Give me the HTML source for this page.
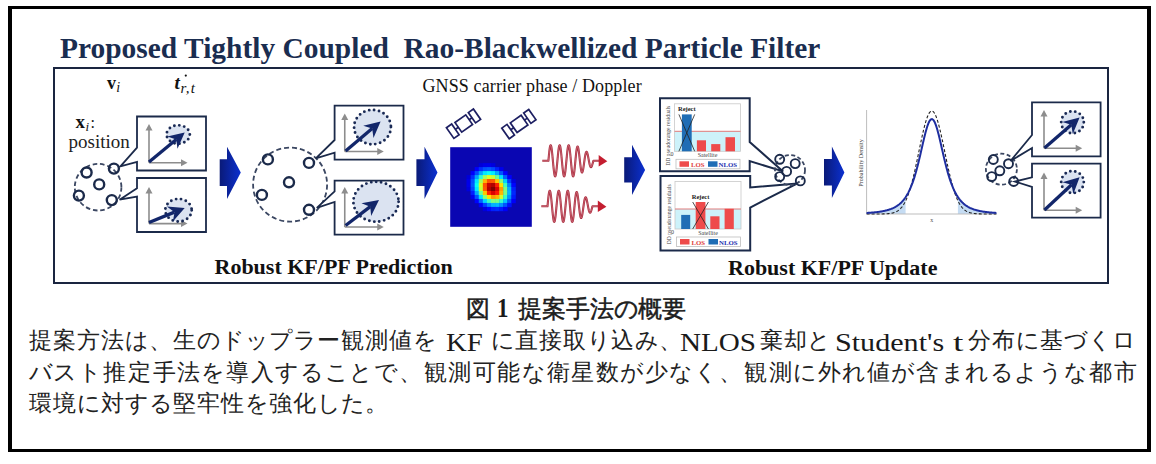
<!DOCTYPE html>
<html lang="ja"><head><meta charset="utf-8">
<style>
html,body{margin:0;padding:0;background:#fff;}
body{width:1156px;height:464px;position:relative;overflow:hidden;font-family:"Liberation Serif",serif;}
#outer{position:absolute;left:8px;top:6px;width:1135px;height:440px;border-style:solid;border-color:#000;border-width:3px 4px;}
#inner{position:absolute;left:53px;top:67px;width:1052px;height:213px;border:2px solid #1a2540;}
svg{position:absolute;left:0;top:0;}
svg text{font-family:"Liberation Serif",serif;}
.cap{position:absolute;left:466px;top:292px;font-size:24px;font-weight:bold;white-space:nowrap;color:#111;}
.t{position:absolute;font-size:24px;line-height:30px;white-space:nowrap;color:#222;}
.t span{display:inline-block;text-align:center;}
.lt{position:absolute;line-height:30px;white-space:nowrap;color:#1a1a1a;}
</style></head><body>
<div id="outer"></div>
<div id="inner"></div>
<svg width="1156" height="464" viewBox="0 0 1156 464">
<defs><linearGradient id="cg" x1="0" y1="0" x2="1" y2="0">
<stop offset="0" stop-color="#0a1a78"/><stop offset="1" stop-color="#0b30d0"/></linearGradient></defs>
<circle cx="98.1" cy="187.2" r="23.3" fill="none" stroke="#3b4762" stroke-width="1.8" stroke-dasharray="4.6 2.8"/>
<path d="M137,116.5 H206 V170.5 H137 V161.9 L120.4,166.4 L137,147.6 Z" fill="#fff" stroke="#1b2a4a" stroke-width="1.8" stroke-linejoin="miter"/>
<line x1="149" y1="162.7" x2="149" y2="129" stroke="#8d8d8d" stroke-width="1.6"/>
<polygon points="149,124 145.5,130.5 152.5,130.5" fill="#8d8d8d"/>
<line x1="149" y1="162.7" x2="182.5" y2="162.7" stroke="#8d8d8d" stroke-width="1.6"/>
<polygon points="187.5,162.7 181.0,159.2 181.0,166.2" fill="#8d8d8d"/>
<ellipse cx="178.2" cy="134.5" rx="11.6" ry="9.2" fill="#dbe3f1" stroke="#1a2a55" stroke-width="2.9" stroke-dasharray="0 5" stroke-linecap="round"/>
<line x1="149" y1="162" x2="176.23" y2="139.42" stroke="#12266a" stroke-width="3.3"/>
<polygon points="184.7,132.4 177.49,148.77 176.23,139.42 167.28,136.45" fill="#12266a"/>
<path d="M137,178 H206 V232 H137 V196.6 L119.6,199.7 L137,188.3 Z" fill="#fff" stroke="#1b2a4a" stroke-width="1.8" stroke-linejoin="miter"/>
<line x1="149" y1="223.6" x2="149" y2="192" stroke="#8d8d8d" stroke-width="1.6"/>
<polygon points="149,187 145.5,193.5 152.5,193.5" fill="#8d8d8d"/>
<line x1="149" y1="223.6" x2="182.5" y2="223.6" stroke="#8d8d8d" stroke-width="1.6"/>
<polygon points="187.5,223.6 181.0,220.1 181.0,227.1" fill="#8d8d8d"/>
<ellipse cx="178.5" cy="210.2" rx="13.2" ry="11.3" fill="#dbe3f1" stroke="#1a2a55" stroke-width="2.9" stroke-dasharray="0 5" stroke-linecap="round"/>
<line x1="149" y1="222.5" x2="174.51" y2="212.14" stroke="#12266a" stroke-width="3.3"/>
<polygon points="184.7,208 172.89,221.43 174.51,212.14 166.87,206.61" fill="#12266a"/>
<circle cx="86.6" cy="172.5" r="5.0" fill="none" stroke="#1b2a4a" stroke-width="2.4"/>
<circle cx="113.9" cy="168.6" r="5.0" fill="none" stroke="#1b2a4a" stroke-width="2.4"/>
<circle cx="99.2" cy="184.4" r="5.0" fill="none" stroke="#1b2a4a" stroke-width="2.4"/>
<circle cx="78.9" cy="195.6" r="5.0" fill="none" stroke="#1b2a4a" stroke-width="2.4"/>
<circle cx="111.8" cy="200.1" r="5.0" fill="none" stroke="#1b2a4a" stroke-width="2.4"/>
<polygon points="219.7,159.3 227,159.3 227,146.7 240.8,172.6 227,199 227,186 219.7,186" fill="url(#cg)"/>
<circle cx="290.1" cy="184.6" r="37" fill="none" stroke="#3b4762" stroke-width="1.8" stroke-dasharray="5 3"/>
<path d="M334.6,105.7 H403.5 V159.7 H334.6 V152.6 L315.8,158.4 L334.6,140 Z" fill="#fff" stroke="#1b2a4a" stroke-width="1.8" stroke-linejoin="miter"/>
<line x1="344.75" y1="151.5" x2="344.75" y2="118.4" stroke="#8d8d8d" stroke-width="1.6"/>
<polygon points="344.75,113.4 341.25,119.9 348.25,119.9" fill="#8d8d8d"/>
<line x1="344.75" y1="151.5" x2="378.75" y2="151.5" stroke="#8d8d8d" stroke-width="1.6"/>
<polygon points="383.75,151.5 377.25,148.0 377.25,155.0" fill="#8d8d8d"/>
<ellipse cx="372.5" cy="127.1" rx="18.4" ry="17.2" fill="#dbe3f1" stroke="#1a2a55" stroke-width="2.9" stroke-dasharray="0 5" stroke-linecap="round"/>
<line x1="345.6" y1="150.9" x2="372.18" y2="128.58" stroke="#12266a" stroke-width="3.3"/>
<polygon points="380.6,121.5 373.49,137.92 372.18,128.58 363.20,125.67" fill="#12266a"/>
<path d="M334.6,180.7 H403.5 V234.7 H334.6 V202 L316.8,207.9 L334.6,191.4 Z" fill="#fff" stroke="#1b2a4a" stroke-width="1.8" stroke-linejoin="miter"/>
<line x1="344.75" y1="227" x2="344.75" y2="192" stroke="#8d8d8d" stroke-width="1.6"/>
<polygon points="344.75,187 341.25,193.5 348.25,193.5" fill="#8d8d8d"/>
<line x1="344.75" y1="227" x2="378.75" y2="227" stroke="#8d8d8d" stroke-width="1.6"/>
<polygon points="383.75,227 377.25,223.5 377.25,230.5" fill="#8d8d8d"/>
<ellipse cx="376" cy="201.7" rx="22.6" ry="20" fill="#dbe3f1" stroke="#1a2a55" stroke-width="2.9" stroke-dasharray="0 5" stroke-linecap="round"/>
<line x1="345.6" y1="225.5" x2="370.26" y2="206.68" stroke="#12266a" stroke-width="3.3"/>
<polygon points="379,200 371.14,216.07 370.26,206.68 361.43,203.35" fill="#12266a"/>
<circle cx="267.9" cy="159.4" r="5.0" fill="none" stroke="#1b2a4a" stroke-width="2.4"/>
<circle cx="309" cy="162.9" r="5.0" fill="none" stroke="#1b2a4a" stroke-width="2.4"/>
<circle cx="289" cy="182.3" r="5.0" fill="none" stroke="#1b2a4a" stroke-width="2.4"/>
<circle cx="261.9" cy="194.9" r="5.0" fill="none" stroke="#1b2a4a" stroke-width="2.4"/>
<circle cx="309" cy="209.8" r="5.0" fill="none" stroke="#1b2a4a" stroke-width="2.4"/>
<polygon points="416.4,159.3 424.5,159.3 424.5,146.7 437.5,172.6 424.5,199 424.5,186 416.4,186" fill="url(#cg)"/>
<g transform="translate(463.75,123.5) rotate(-35)" fill="none" stroke="#1d1f62" stroke-width="1.7"><rect x="-16.6" y="-6.5" width="6.4" height="13"/><line x1="-10.2" y1="0" x2="-6.6" y2="0"/><rect x="-6.6" y="-5.9" width="13.2" height="11.8"/><line x1="6.6" y1="0" x2="10" y2="0"/><rect x="10" y="-6.3" width="6.2" height="12.6"/></g>
<g transform="translate(519.1,123.9) rotate(-35)" fill="none" stroke="#1d1f62" stroke-width="1.7"><rect x="-16.6" y="-6.5" width="6.4" height="13"/><line x1="-10.2" y1="0" x2="-6.6" y2="0"/><rect x="-6.6" y="-5.9" width="13.2" height="11.8"/><line x1="6.6" y1="0" x2="10" y2="0"/><rect x="10" y="-6.3" width="6.2" height="12.6"/></g>
<rect x="450.2" y="147.2" width="81.6" height="79.6" fill="#0a06b2"/>
<rect x="478.76" y="163.12" width="4.38" height="4.28" fill="#0000d9"/>
<rect x="482.84" y="163.12" width="4.38" height="4.28" fill="#0000e8"/>
<rect x="486.92" y="163.12" width="4.38" height="4.28" fill="#0000ea"/>
<rect x="491.00" y="163.12" width="4.38" height="4.28" fill="#0000de"/>
<rect x="474.68" y="167.10" width="4.38" height="4.28" fill="#0000fc"/>
<rect x="478.76" y="167.10" width="4.38" height="4.28" fill="#002eff"/>
<rect x="482.84" y="167.10" width="4.38" height="4.28" fill="#0051ff"/>
<rect x="486.92" y="167.10" width="4.38" height="4.28" fill="#005bff"/>
<rect x="491.00" y="167.10" width="4.38" height="4.28" fill="#0048ff"/>
<rect x="495.08" y="167.10" width="4.38" height="4.28" fill="#001fff"/>
<rect x="499.16" y="167.10" width="4.38" height="4.28" fill="#0000ed"/>
<rect x="470.60" y="171.08" width="4.38" height="4.28" fill="#0000fc"/>
<rect x="474.68" y="171.08" width="4.38" height="4.28" fill="#004dff"/>
<rect x="478.76" y="171.08" width="4.38" height="4.28" fill="#00a4ff"/>
<rect x="482.84" y="171.08" width="4.38" height="4.28" fill="#00e9ff"/>
<rect x="486.92" y="171.08" width="4.38" height="4.28" fill="#07fff7"/>
<rect x="491.00" y="171.08" width="4.38" height="4.28" fill="#00edff"/>
<rect x="495.08" y="171.08" width="4.38" height="4.28" fill="#00aaff"/>
<rect x="499.16" y="171.08" width="4.38" height="4.28" fill="#0054ff"/>
<rect x="503.24" y="171.08" width="4.38" height="4.28" fill="#0003ff"/>
<rect x="466.52" y="175.06" width="4.38" height="4.28" fill="#0000d9"/>
<rect x="470.60" y="175.06" width="4.38" height="4.28" fill="#002eff"/>
<rect x="474.68" y="175.06" width="4.38" height="4.28" fill="#00a4ff"/>
<rect x="478.76" y="175.06" width="4.38" height="4.28" fill="#2cffd2"/>
<rect x="482.84" y="175.06" width="4.38" height="4.28" fill="#a1ff5d"/>
<rect x="486.92" y="175.06" width="4.38" height="4.28" fill="#dbff23"/>
<rect x="491.00" y="175.06" width="4.38" height="4.28" fill="#c6ff38"/>
<rect x="495.08" y="175.06" width="4.38" height="4.28" fill="#69ff95"/>
<rect x="499.16" y="175.06" width="4.38" height="4.28" fill="#00e4ff"/>
<rect x="503.24" y="175.06" width="4.38" height="4.28" fill="#0063ff"/>
<rect x="507.32" y="175.06" width="4.38" height="4.28" fill="#0000fc"/>
<rect x="466.52" y="179.04" width="4.38" height="4.28" fill="#0000e8"/>
<rect x="470.60" y="179.04" width="4.38" height="4.28" fill="#0051ff"/>
<rect x="474.68" y="179.04" width="4.38" height="4.28" fill="#00e9ff"/>
<rect x="478.76" y="179.04" width="4.38" height="4.28" fill="#a1ff5d"/>
<rect x="482.84" y="179.04" width="4.38" height="4.28" fill="#ffb400"/>
<rect x="486.92" y="179.04" width="4.38" height="4.28" fill="#ff5100"/>
<rect x="491.00" y="179.04" width="4.38" height="4.28" fill="#ff5800"/>
<rect x="495.08" y="179.04" width="4.38" height="4.28" fill="#ffc600"/>
<rect x="499.16" y="179.04" width="4.38" height="4.28" fill="#8bff73"/>
<rect x="503.24" y="179.04" width="4.38" height="4.28" fill="#00d5ff"/>
<rect x="507.32" y="179.04" width="4.38" height="4.28" fill="#0042ff"/>
<rect x="511.40" y="179.04" width="4.38" height="4.28" fill="#0000df"/>
<rect x="466.52" y="183.02" width="4.38" height="4.28" fill="#0000ea"/>
<rect x="470.60" y="183.02" width="4.38" height="4.28" fill="#005bff"/>
<rect x="474.68" y="183.02" width="4.38" height="4.28" fill="#07fff7"/>
<rect x="478.76" y="183.02" width="4.38" height="4.28" fill="#dbff23"/>
<rect x="482.84" y="183.02" width="4.38" height="4.28" fill="#ff5100"/>
<rect x="486.92" y="183.02" width="4.38" height="4.28" fill="#c50000"/>
<rect x="491.00" y="183.02" width="4.38" height="4.28" fill="#b20000"/>
<rect x="495.08" y="183.02" width="4.38" height="4.28" fill="#ff2000"/>
<rect x="499.16" y="183.02" width="4.38" height="4.28" fill="#ffe400"/>
<rect x="503.24" y="183.02" width="4.38" height="4.28" fill="#3fffbf"/>
<rect x="507.32" y="183.02" width="4.38" height="4.28" fill="#0085ff"/>
<rect x="511.40" y="183.02" width="4.38" height="4.28" fill="#0005ff"/>
<rect x="466.52" y="187.00" width="4.38" height="4.28" fill="#0000de"/>
<rect x="470.60" y="187.00" width="4.38" height="4.28" fill="#0048ff"/>
<rect x="474.68" y="187.00" width="4.38" height="4.28" fill="#00edff"/>
<rect x="478.76" y="187.00" width="4.38" height="4.28" fill="#c6ff38"/>
<rect x="482.84" y="187.00" width="4.38" height="4.28" fill="#ff5800"/>
<rect x="486.92" y="187.00" width="4.38" height="4.28" fill="#b20000"/>
<rect x="491.00" y="187.00" width="4.38" height="4.28" fill="#840000"/>
<rect x="495.08" y="187.00" width="4.38" height="4.28" fill="#dc0000"/>
<rect x="499.16" y="187.00" width="4.38" height="4.28" fill="#ff9c00"/>
<rect x="503.24" y="187.00" width="4.38" height="4.28" fill="#7eff80"/>
<rect x="507.32" y="187.00" width="4.38" height="4.28" fill="#00b2ff"/>
<rect x="511.40" y="187.00" width="4.38" height="4.28" fill="#0020ff"/>
<rect x="470.60" y="190.98" width="4.38" height="4.28" fill="#001fff"/>
<rect x="474.68" y="190.98" width="4.38" height="4.28" fill="#00aaff"/>
<rect x="478.76" y="190.98" width="4.38" height="4.28" fill="#69ff95"/>
<rect x="482.84" y="190.98" width="4.38" height="4.28" fill="#ffc600"/>
<rect x="486.92" y="190.98" width="4.38" height="4.28" fill="#ff2000"/>
<rect x="491.00" y="190.98" width="4.38" height="4.28" fill="#dc0000"/>
<rect x="495.08" y="190.98" width="4.38" height="4.28" fill="#ff1700"/>
<rect x="499.16" y="190.98" width="4.38" height="4.28" fill="#ffb600"/>
<rect x="503.24" y="190.98" width="4.38" height="4.28" fill="#79ff85"/>
<rect x="507.32" y="190.98" width="4.38" height="4.28" fill="#00b8ff"/>
<rect x="511.40" y="190.98" width="4.38" height="4.28" fill="#0028ff"/>
<rect x="470.60" y="194.96" width="4.38" height="4.28" fill="#0000ed"/>
<rect x="474.68" y="194.96" width="4.38" height="4.28" fill="#0054ff"/>
<rect x="478.76" y="194.96" width="4.38" height="4.28" fill="#00e4ff"/>
<rect x="482.84" y="194.96" width="4.38" height="4.28" fill="#8bff73"/>
<rect x="486.92" y="194.96" width="4.38" height="4.28" fill="#ffe400"/>
<rect x="491.00" y="194.96" width="4.38" height="4.28" fill="#ff9c00"/>
<rect x="495.08" y="194.96" width="4.38" height="4.28" fill="#ffb600"/>
<rect x="499.16" y="194.96" width="4.38" height="4.28" fill="#d5ff29"/>
<rect x="503.24" y="194.96" width="4.38" height="4.28" fill="#34ffca"/>
<rect x="507.32" y="194.96" width="4.38" height="4.28" fill="#0095ff"/>
<rect x="511.40" y="194.96" width="4.38" height="4.28" fill="#0019ff"/>
<rect x="474.68" y="198.94" width="4.38" height="4.28" fill="#0003ff"/>
<rect x="478.76" y="198.94" width="4.38" height="4.28" fill="#0063ff"/>
<rect x="482.84" y="198.94" width="4.38" height="4.28" fill="#00d5ff"/>
<rect x="486.92" y="198.94" width="4.38" height="4.28" fill="#3fffbf"/>
<rect x="491.00" y="198.94" width="4.38" height="4.28" fill="#7eff80"/>
<rect x="495.08" y="198.94" width="4.38" height="4.28" fill="#79ff85"/>
<rect x="499.16" y="198.94" width="4.38" height="4.28" fill="#34ffca"/>
<rect x="503.24" y="198.94" width="4.38" height="4.28" fill="#00c7ff"/>
<rect x="507.32" y="198.94" width="4.38" height="4.28" fill="#0056ff"/>
<rect x="511.40" y="198.94" width="4.38" height="4.28" fill="#0000f9"/>
<rect x="478.76" y="202.92" width="4.38" height="4.28" fill="#0000fc"/>
<rect x="482.84" y="202.92" width="4.38" height="4.28" fill="#0042ff"/>
<rect x="486.92" y="202.92" width="4.38" height="4.28" fill="#0085ff"/>
<rect x="491.00" y="202.92" width="4.38" height="4.28" fill="#00b2ff"/>
<rect x="495.08" y="202.92" width="4.38" height="4.28" fill="#00b8ff"/>
<rect x="499.16" y="202.92" width="4.38" height="4.28" fill="#0095ff"/>
<rect x="503.24" y="202.92" width="4.38" height="4.28" fill="#0056ff"/>
<rect x="507.32" y="202.92" width="4.38" height="4.28" fill="#0010ff"/>
<rect x="482.84" y="206.90" width="4.38" height="4.28" fill="#0000df"/>
<rect x="486.92" y="206.90" width="4.38" height="4.28" fill="#0005ff"/>
<rect x="491.00" y="206.90" width="4.38" height="4.28" fill="#0020ff"/>
<rect x="495.08" y="206.90" width="4.38" height="4.28" fill="#0028ff"/>
<rect x="499.16" y="206.90" width="4.38" height="4.28" fill="#0019ff"/>
<rect x="503.24" y="206.90" width="4.38" height="4.28" fill="#0000f9"/>
<path d="M542.30,160.80 L548.40,160.80 L548.40,160.80 L548.55,159.17 L548.70,157.56 L548.85,155.98 L549.00,154.45 L549.15,153.00 L549.30,151.63 L549.45,150.36 L549.60,149.21 L549.75,148.18 L549.90,147.29 L550.05,146.55 L550.20,145.96 L550.35,145.54 L550.50,145.29 L550.65,145.20 L550.80,145.29 L550.95,145.54 L551.10,145.96 L551.25,146.55 L551.40,147.29 L551.55,148.18 L551.70,149.21 L551.85,150.36 L552.00,151.63 L552.15,153.00 L552.30,154.45 L552.45,155.98 L552.60,157.56 L552.75,159.17 L552.90,160.80 L553.05,162.43 L553.20,164.04 L553.35,165.62 L553.50,167.15 L553.65,168.60 L553.80,169.97 L553.95,171.24 L554.10,172.39 L554.25,173.42 L554.40,174.31 L554.55,175.05 L554.70,175.64 L554.85,176.06 L555.00,176.31 L555.15,176.40 L555.30,176.31 L555.45,176.06 L555.60,175.64 L555.75,175.05 L555.90,174.31 L556.05,173.42 L556.20,172.39 L556.35,171.24 L556.50,169.97 L556.65,168.60 L556.80,167.15 L556.95,165.62 L557.10,164.04 L557.25,162.43 L557.40,160.80 L557.55,159.17 L557.70,157.56 L557.85,155.98 L558.00,154.45 L558.15,153.00 L558.30,151.63 L558.45,150.36 L558.60,149.21 L558.75,148.18 L558.90,147.29 L559.05,146.55 L559.20,145.96 L559.35,145.54 L559.50,145.29 L559.65,145.20 L559.80,145.29 L559.95,145.54 L560.10,145.96 L560.25,146.55 L560.40,147.29 L560.55,148.18 L560.70,149.21 L560.85,150.36 L561.00,151.63 L561.15,153.00 L561.30,154.45 L561.45,155.98 L561.60,157.56 L561.75,159.17 L561.90,160.80 L562.05,162.43 L562.20,164.04 L562.35,165.62 L562.50,167.15 L562.65,168.60 L562.80,169.97 L562.95,171.24 L563.10,172.39 L563.25,173.42 L563.40,174.31 L563.55,175.05 L563.70,175.64 L563.85,176.06 L564.00,176.31 L564.15,176.40 L564.30,176.31 L564.45,176.06 L564.60,175.64 L564.75,175.05 L564.90,174.31 L565.05,173.42 L565.20,172.39 L565.35,171.24 L565.50,169.97 L565.65,168.60 L565.80,167.15 L565.95,165.62 L566.10,164.04 L566.25,162.43 L566.40,160.80 L566.55,159.17 L566.70,157.56 L566.85,155.98 L567.00,154.45 L567.15,153.00 L567.30,151.63 L567.45,150.36 L567.60,149.21 L567.75,148.18 L567.90,147.29 L568.05,146.55 L568.20,145.96 L568.35,145.54 L568.50,145.29 L568.65,145.20 L568.80,145.29 L568.95,145.54 L569.10,145.96 L569.25,146.55 L569.40,147.29 L569.55,148.18 L569.70,149.21 L569.85,150.36 L570.00,151.63 L570.15,153.00 L570.30,154.45 L570.45,155.98 L570.60,157.56 L570.75,159.17 L570.90,160.80 L571.05,162.43 L571.20,164.04 L571.35,165.62 L571.50,167.15 L571.65,168.60 L571.80,169.97 L571.95,171.24 L572.10,172.39 L572.25,173.42 L572.40,174.31 L572.55,175.05 L572.70,175.64 L572.85,176.06 L573.00,176.31 L573.15,176.40 L573.30,176.31 L573.45,176.06 L573.60,175.64 L573.75,175.05 L573.90,174.31 L574.05,173.42 L574.20,172.39 L574.35,171.24 L574.50,169.97 L574.65,168.60 L574.80,167.15 L574.95,165.62 L575.10,164.04 L575.25,162.43 L575.40,160.80 L575.55,159.18 L575.70,157.59 L575.85,156.06 L576.00,154.60 L576.15,153.22 L576.30,151.94 L576.45,150.78 L576.60,149.73 L576.75,148.82 L576.90,148.05 L577.05,147.44 L577.20,146.97 L577.35,146.66 L577.50,146.52 L577.65,146.53 L577.80,146.69 L577.95,147.01 L578.10,147.48 L578.25,148.08 L578.40,148.82 L578.55,149.68 L578.70,150.65 L578.85,151.72 L579.00,152.88 L579.15,154.10 L579.30,155.39 L579.45,156.72 L579.60,158.07 L579.75,159.44 L579.90,160.80 L580.05,162.14 L580.20,163.46 L580.35,164.72 L580.50,165.92 L580.65,167.05 L580.80,168.10 L580.95,169.05 L581.10,169.90 L581.25,170.63 L581.40,171.25 L581.55,171.74 L581.70,172.11 L581.85,172.34 L582.00,172.45 L582.15,172.43 L582.30,172.27 L582.45,172.00 L582.60,171.60 L582.75,171.10 L582.90,170.49 L583.05,169.78 L583.20,168.98 L583.35,168.11 L583.50,167.17 L583.65,166.17 L583.80,165.13 L583.95,164.06 L584.10,162.98 L584.25,161.89 L584.40,160.80 L584.55,159.73 L584.70,158.70 L584.85,157.70 L585.00,156.75 L585.15,155.87 L585.30,155.06 L585.45,154.32 L585.60,153.67 L585.75,153.11 L585.90,152.64 L586.05,152.28 L586.20,152.01 L586.35,151.85 L586.50,151.79 L586.65,151.83 L586.80,151.96 L586.95,152.19 L587.10,152.52 L587.25,152.92 L587.40,153.41 L587.55,153.97 L587.70,154.59 L587.85,155.27 L588.00,155.99 L588.15,156.75 L588.30,157.54 L588.45,158.35 L588.60,159.17 L588.75,159.99 L588.90,160.80 L589.05,161.59 L589.20,162.35 L589.35,163.08 L589.50,163.77 L589.65,164.40 L589.80,164.99 L589.95,165.51 L590.10,165.96 L590.25,166.35 L590.40,166.66 L590.55,166.90 L590.70,167.07 L590.85,167.16 L591.00,167.18 L591.15,167.12 L591.30,167.00 L591.45,166.81 L591.60,166.56 L591.75,166.26 L591.90,165.90 L592.05,165.49 L592.20,165.04 L592.35,164.56 L592.50,164.05 L592.65,163.52 L592.80,162.98 L592.95,162.43 L593.10,161.88 L593.25,161.33 L593.40,160.80 L599.40,160.80" fill="none" stroke="#a8283a" stroke-width="2.1" stroke-linejoin="round"/><path d="M542.30,160.80 L548.40,160.80 L548.40,160.80 L548.55,159.17 L548.70,157.56 L548.85,155.98 L549.00,154.45 L549.15,153.00 L549.30,151.63 L549.45,150.36 L549.60,149.21 L549.75,148.18 L549.90,147.29 L550.05,146.55 L550.20,145.96 L550.35,145.54 L550.50,145.29 L550.65,145.20 L550.80,145.29 L550.95,145.54 L551.10,145.96 L551.25,146.55 L551.40,147.29 L551.55,148.18 L551.70,149.21 L551.85,150.36 L552.00,151.63 L552.15,153.00 L552.30,154.45 L552.45,155.98 L552.60,157.56 L552.75,159.17 L552.90,160.80 L553.05,162.43 L553.20,164.04 L553.35,165.62 L553.50,167.15 L553.65,168.60 L553.80,169.97 L553.95,171.24 L554.10,172.39 L554.25,173.42 L554.40,174.31 L554.55,175.05 L554.70,175.64 L554.85,176.06 L555.00,176.31 L555.15,176.40 L555.30,176.31 L555.45,176.06 L555.60,175.64 L555.75,175.05 L555.90,174.31 L556.05,173.42 L556.20,172.39 L556.35,171.24 L556.50,169.97 L556.65,168.60 L556.80,167.15 L556.95,165.62 L557.10,164.04 L557.25,162.43 L557.40,160.80 L557.55,159.17 L557.70,157.56 L557.85,155.98 L558.00,154.45 L558.15,153.00 L558.30,151.63 L558.45,150.36 L558.60,149.21 L558.75,148.18 L558.90,147.29 L559.05,146.55 L559.20,145.96 L559.35,145.54 L559.50,145.29 L559.65,145.20 L559.80,145.29 L559.95,145.54 L560.10,145.96 L560.25,146.55 L560.40,147.29 L560.55,148.18 L560.70,149.21 L560.85,150.36 L561.00,151.63 L561.15,153.00 L561.30,154.45 L561.45,155.98 L561.60,157.56 L561.75,159.17 L561.90,160.80 L562.05,162.43 L562.20,164.04 L562.35,165.62 L562.50,167.15 L562.65,168.60 L562.80,169.97 L562.95,171.24 L563.10,172.39 L563.25,173.42 L563.40,174.31 L563.55,175.05 L563.70,175.64 L563.85,176.06 L564.00,176.31 L564.15,176.40 L564.30,176.31 L564.45,176.06 L564.60,175.64 L564.75,175.05 L564.90,174.31 L565.05,173.42 L565.20,172.39 L565.35,171.24 L565.50,169.97 L565.65,168.60 L565.80,167.15 L565.95,165.62 L566.10,164.04 L566.25,162.43 L566.40,160.80 L566.55,159.17 L566.70,157.56 L566.85,155.98 L567.00,154.45 L567.15,153.00 L567.30,151.63 L567.45,150.36 L567.60,149.21 L567.75,148.18 L567.90,147.29 L568.05,146.55 L568.20,145.96 L568.35,145.54 L568.50,145.29 L568.65,145.20 L568.80,145.29 L568.95,145.54 L569.10,145.96 L569.25,146.55 L569.40,147.29 L569.55,148.18 L569.70,149.21 L569.85,150.36 L570.00,151.63 L570.15,153.00 L570.30,154.45 L570.45,155.98 L570.60,157.56 L570.75,159.17 L570.90,160.80 L571.05,162.43 L571.20,164.04 L571.35,165.62 L571.50,167.15 L571.65,168.60 L571.80,169.97 L571.95,171.24 L572.10,172.39 L572.25,173.42 L572.40,174.31 L572.55,175.05 L572.70,175.64 L572.85,176.06 L573.00,176.31 L573.15,176.40 L573.30,176.31 L573.45,176.06 L573.60,175.64 L573.75,175.05 L573.90,174.31 L574.05,173.42 L574.20,172.39 L574.35,171.24 L574.50,169.97 L574.65,168.60 L574.80,167.15 L574.95,165.62 L575.10,164.04 L575.25,162.43 L575.40,160.80 L575.55,159.18 L575.70,157.59 L575.85,156.06 L576.00,154.60 L576.15,153.22 L576.30,151.94 L576.45,150.78 L576.60,149.73 L576.75,148.82 L576.90,148.05 L577.05,147.44 L577.20,146.97 L577.35,146.66 L577.50,146.52 L577.65,146.53 L577.80,146.69 L577.95,147.01 L578.10,147.48 L578.25,148.08 L578.40,148.82 L578.55,149.68 L578.70,150.65 L578.85,151.72 L579.00,152.88 L579.15,154.10 L579.30,155.39 L579.45,156.72 L579.60,158.07 L579.75,159.44 L579.90,160.80 L580.05,162.14 L580.20,163.46 L580.35,164.72 L580.50,165.92 L580.65,167.05 L580.80,168.10 L580.95,169.05 L581.10,169.90 L581.25,170.63 L581.40,171.25 L581.55,171.74 L581.70,172.11 L581.85,172.34 L582.00,172.45 L582.15,172.43 L582.30,172.27 L582.45,172.00 L582.60,171.60 L582.75,171.10 L582.90,170.49 L583.05,169.78 L583.20,168.98 L583.35,168.11 L583.50,167.17 L583.65,166.17 L583.80,165.13 L583.95,164.06 L584.10,162.98 L584.25,161.89 L584.40,160.80 L584.55,159.73 L584.70,158.70 L584.85,157.70 L585.00,156.75 L585.15,155.87 L585.30,155.06 L585.45,154.32 L585.60,153.67 L585.75,153.11 L585.90,152.64 L586.05,152.28 L586.20,152.01 L586.35,151.85 L586.50,151.79 L586.65,151.83 L586.80,151.96 L586.95,152.19 L587.10,152.52 L587.25,152.92 L587.40,153.41 L587.55,153.97 L587.70,154.59 L587.85,155.27 L588.00,155.99 L588.15,156.75 L588.30,157.54 L588.45,158.35 L588.60,159.17 L588.75,159.99 L588.90,160.80 L589.05,161.59 L589.20,162.35 L589.35,163.08 L589.50,163.77 L589.65,164.40 L589.80,164.99 L589.95,165.51 L590.10,165.96 L590.25,166.35 L590.40,166.66 L590.55,166.90 L590.70,167.07 L590.85,167.16 L591.00,167.18 L591.15,167.12 L591.30,167.00 L591.45,166.81 L591.60,166.56 L591.75,166.26 L591.90,165.90 L592.05,165.49 L592.20,165.04 L592.35,164.56 L592.50,164.05 L592.65,163.52 L592.80,162.98 L592.95,162.43 L593.10,161.88 L593.25,161.33 L593.40,160.80 L599.40,160.80" fill="none" stroke="#e8a0aa" stroke-width="0.5" stroke-linejoin="round"/><polygon points="607.3,161.20000000000002 598.6999999999999,155.10000000000002 598.6999999999999,166.5" fill="#c41e30"/>
<path d="M541.30,206.30 L547.50,206.30 L547.50,206.30 L547.65,204.67 L547.80,203.06 L547.95,201.48 L548.10,199.95 L548.25,198.50 L548.40,197.13 L548.55,195.86 L548.70,194.71 L548.85,193.68 L549.00,192.79 L549.15,192.05 L549.30,191.46 L549.45,191.04 L549.60,190.79 L549.75,190.70 L549.90,190.79 L550.05,191.04 L550.20,191.46 L550.35,192.05 L550.50,192.79 L550.65,193.68 L550.80,194.71 L550.95,195.86 L551.10,197.13 L551.25,198.50 L551.40,199.95 L551.55,201.48 L551.70,203.06 L551.85,204.67 L552.00,206.30 L552.15,207.93 L552.30,209.54 L552.45,211.12 L552.60,212.65 L552.75,214.10 L552.90,215.47 L553.05,216.74 L553.20,217.89 L553.35,218.92 L553.50,219.81 L553.65,220.55 L553.80,221.14 L553.95,221.56 L554.10,221.81 L554.25,221.90 L554.40,221.81 L554.55,221.56 L554.70,221.14 L554.85,220.55 L555.00,219.81 L555.15,218.92 L555.30,217.89 L555.45,216.74 L555.60,215.47 L555.75,214.10 L555.90,212.65 L556.05,211.12 L556.20,209.54 L556.35,207.93 L556.50,206.30 L556.65,204.67 L556.80,203.06 L556.95,201.48 L557.10,199.95 L557.25,198.50 L557.40,197.13 L557.55,195.86 L557.70,194.71 L557.85,193.68 L558.00,192.79 L558.15,192.05 L558.30,191.46 L558.45,191.04 L558.60,190.79 L558.75,190.70 L558.90,190.79 L559.05,191.04 L559.20,191.46 L559.35,192.05 L559.50,192.79 L559.65,193.68 L559.80,194.71 L559.95,195.86 L560.10,197.13 L560.25,198.50 L560.40,199.95 L560.55,201.48 L560.70,203.06 L560.85,204.67 L561.00,206.30 L561.15,207.93 L561.30,209.54 L561.45,211.12 L561.60,212.65 L561.75,214.10 L561.90,215.47 L562.05,216.74 L562.20,217.89 L562.35,218.92 L562.50,219.81 L562.65,220.55 L562.80,221.14 L562.95,221.56 L563.10,221.81 L563.25,221.90 L563.40,221.81 L563.55,221.56 L563.70,221.14 L563.85,220.55 L564.00,219.81 L564.15,218.92 L564.30,217.89 L564.45,216.74 L564.60,215.47 L564.75,214.10 L564.90,212.65 L565.05,211.12 L565.20,209.54 L565.35,207.93 L565.50,206.30 L565.65,204.67 L565.80,203.06 L565.95,201.48 L566.10,199.95 L566.25,198.50 L566.40,197.13 L566.55,195.86 L566.70,194.71 L566.85,193.68 L567.00,192.79 L567.15,192.05 L567.30,191.46 L567.45,191.04 L567.60,190.79 L567.75,190.70 L567.90,190.79 L568.05,191.04 L568.20,191.46 L568.35,192.05 L568.50,192.79 L568.65,193.68 L568.80,194.71 L568.95,195.86 L569.10,197.13 L569.25,198.50 L569.40,199.95 L569.55,201.48 L569.70,203.06 L569.85,204.67 L570.00,206.30 L570.15,207.93 L570.30,209.54 L570.45,211.12 L570.60,212.65 L570.75,214.10 L570.90,215.47 L571.05,216.74 L571.20,217.89 L571.35,218.92 L571.50,219.81 L571.65,220.55 L571.80,221.14 L571.95,221.56 L572.10,221.81 L572.25,221.90 L572.40,221.81 L572.55,221.56 L572.70,221.14 L572.85,220.55 L573.00,219.81 L573.15,218.92 L573.30,217.89 L573.45,216.74 L573.60,215.47 L573.75,214.10 L573.90,212.65 L574.05,211.12 L574.20,209.54 L574.35,207.93 L574.50,206.30 L574.65,204.68 L574.80,203.09 L574.95,201.56 L575.10,200.10 L575.25,198.72 L575.40,197.44 L575.55,196.28 L575.70,195.23 L575.85,194.32 L576.00,193.55 L576.15,192.94 L576.30,192.47 L576.45,192.16 L576.60,192.02 L576.75,192.03 L576.90,192.19 L577.05,192.51 L577.20,192.98 L577.35,193.58 L577.50,194.32 L577.65,195.18 L577.80,196.15 L577.95,197.22 L578.10,198.38 L578.25,199.60 L578.40,200.89 L578.55,202.22 L578.70,203.57 L578.85,204.94 L579.00,206.30 L579.15,207.64 L579.30,208.96 L579.45,210.22 L579.60,211.42 L579.75,212.55 L579.90,213.60 L580.05,214.55 L580.20,215.40 L580.35,216.13 L580.50,216.75 L580.65,217.24 L580.80,217.61 L580.95,217.84 L581.10,217.95 L581.25,217.93 L581.40,217.77 L581.55,217.50 L581.70,217.10 L581.85,216.60 L582.00,215.99 L582.15,215.28 L582.30,214.48 L582.45,213.61 L582.60,212.67 L582.75,211.67 L582.90,210.63 L583.05,209.56 L583.20,208.48 L583.35,207.39 L583.50,206.30 L583.65,205.23 L583.80,204.20 L583.95,203.20 L584.10,202.25 L584.25,201.37 L584.40,200.56 L584.55,199.82 L584.70,199.17 L584.85,198.61 L585.00,198.14 L585.15,197.78 L585.30,197.51 L585.45,197.35 L585.60,197.29 L585.75,197.33 L585.90,197.46 L586.05,197.69 L586.20,198.02 L586.35,198.42 L586.50,198.91 L586.65,199.47 L586.80,200.09 L586.95,200.77 L587.10,201.49 L587.25,202.25 L587.40,203.04 L587.55,203.85 L587.70,204.67 L587.85,205.49 L588.00,206.30 L588.15,207.09 L588.30,207.85 L588.45,208.58 L588.60,209.27 L588.75,209.90 L588.90,210.49 L589.05,211.01 L589.20,211.46 L589.35,211.85 L589.50,212.16 L589.65,212.40 L589.80,212.57 L589.95,212.66 L590.10,212.68 L590.25,212.62 L590.40,212.50 L590.55,212.31 L590.70,212.06 L590.85,211.76 L591.00,211.40 L591.15,210.99 L591.30,210.54 L591.45,210.06 L591.60,209.55 L591.75,209.02 L591.90,208.48 L592.05,207.93 L592.20,207.38 L592.35,206.83 L592.50,206.30 L598.50,206.30" fill="none" stroke="#a8283a" stroke-width="2.1" stroke-linejoin="round"/><path d="M541.30,206.30 L547.50,206.30 L547.50,206.30 L547.65,204.67 L547.80,203.06 L547.95,201.48 L548.10,199.95 L548.25,198.50 L548.40,197.13 L548.55,195.86 L548.70,194.71 L548.85,193.68 L549.00,192.79 L549.15,192.05 L549.30,191.46 L549.45,191.04 L549.60,190.79 L549.75,190.70 L549.90,190.79 L550.05,191.04 L550.20,191.46 L550.35,192.05 L550.50,192.79 L550.65,193.68 L550.80,194.71 L550.95,195.86 L551.10,197.13 L551.25,198.50 L551.40,199.95 L551.55,201.48 L551.70,203.06 L551.85,204.67 L552.00,206.30 L552.15,207.93 L552.30,209.54 L552.45,211.12 L552.60,212.65 L552.75,214.10 L552.90,215.47 L553.05,216.74 L553.20,217.89 L553.35,218.92 L553.50,219.81 L553.65,220.55 L553.80,221.14 L553.95,221.56 L554.10,221.81 L554.25,221.90 L554.40,221.81 L554.55,221.56 L554.70,221.14 L554.85,220.55 L555.00,219.81 L555.15,218.92 L555.30,217.89 L555.45,216.74 L555.60,215.47 L555.75,214.10 L555.90,212.65 L556.05,211.12 L556.20,209.54 L556.35,207.93 L556.50,206.30 L556.65,204.67 L556.80,203.06 L556.95,201.48 L557.10,199.95 L557.25,198.50 L557.40,197.13 L557.55,195.86 L557.70,194.71 L557.85,193.68 L558.00,192.79 L558.15,192.05 L558.30,191.46 L558.45,191.04 L558.60,190.79 L558.75,190.70 L558.90,190.79 L559.05,191.04 L559.20,191.46 L559.35,192.05 L559.50,192.79 L559.65,193.68 L559.80,194.71 L559.95,195.86 L560.10,197.13 L560.25,198.50 L560.40,199.95 L560.55,201.48 L560.70,203.06 L560.85,204.67 L561.00,206.30 L561.15,207.93 L561.30,209.54 L561.45,211.12 L561.60,212.65 L561.75,214.10 L561.90,215.47 L562.05,216.74 L562.20,217.89 L562.35,218.92 L562.50,219.81 L562.65,220.55 L562.80,221.14 L562.95,221.56 L563.10,221.81 L563.25,221.90 L563.40,221.81 L563.55,221.56 L563.70,221.14 L563.85,220.55 L564.00,219.81 L564.15,218.92 L564.30,217.89 L564.45,216.74 L564.60,215.47 L564.75,214.10 L564.90,212.65 L565.05,211.12 L565.20,209.54 L565.35,207.93 L565.50,206.30 L565.65,204.67 L565.80,203.06 L565.95,201.48 L566.10,199.95 L566.25,198.50 L566.40,197.13 L566.55,195.86 L566.70,194.71 L566.85,193.68 L567.00,192.79 L567.15,192.05 L567.30,191.46 L567.45,191.04 L567.60,190.79 L567.75,190.70 L567.90,190.79 L568.05,191.04 L568.20,191.46 L568.35,192.05 L568.50,192.79 L568.65,193.68 L568.80,194.71 L568.95,195.86 L569.10,197.13 L569.25,198.50 L569.40,199.95 L569.55,201.48 L569.70,203.06 L569.85,204.67 L570.00,206.30 L570.15,207.93 L570.30,209.54 L570.45,211.12 L570.60,212.65 L570.75,214.10 L570.90,215.47 L571.05,216.74 L571.20,217.89 L571.35,218.92 L571.50,219.81 L571.65,220.55 L571.80,221.14 L571.95,221.56 L572.10,221.81 L572.25,221.90 L572.40,221.81 L572.55,221.56 L572.70,221.14 L572.85,220.55 L573.00,219.81 L573.15,218.92 L573.30,217.89 L573.45,216.74 L573.60,215.47 L573.75,214.10 L573.90,212.65 L574.05,211.12 L574.20,209.54 L574.35,207.93 L574.50,206.30 L574.65,204.68 L574.80,203.09 L574.95,201.56 L575.10,200.10 L575.25,198.72 L575.40,197.44 L575.55,196.28 L575.70,195.23 L575.85,194.32 L576.00,193.55 L576.15,192.94 L576.30,192.47 L576.45,192.16 L576.60,192.02 L576.75,192.03 L576.90,192.19 L577.05,192.51 L577.20,192.98 L577.35,193.58 L577.50,194.32 L577.65,195.18 L577.80,196.15 L577.95,197.22 L578.10,198.38 L578.25,199.60 L578.40,200.89 L578.55,202.22 L578.70,203.57 L578.85,204.94 L579.00,206.30 L579.15,207.64 L579.30,208.96 L579.45,210.22 L579.60,211.42 L579.75,212.55 L579.90,213.60 L580.05,214.55 L580.20,215.40 L580.35,216.13 L580.50,216.75 L580.65,217.24 L580.80,217.61 L580.95,217.84 L581.10,217.95 L581.25,217.93 L581.40,217.77 L581.55,217.50 L581.70,217.10 L581.85,216.60 L582.00,215.99 L582.15,215.28 L582.30,214.48 L582.45,213.61 L582.60,212.67 L582.75,211.67 L582.90,210.63 L583.05,209.56 L583.20,208.48 L583.35,207.39 L583.50,206.30 L583.65,205.23 L583.80,204.20 L583.95,203.20 L584.10,202.25 L584.25,201.37 L584.40,200.56 L584.55,199.82 L584.70,199.17 L584.85,198.61 L585.00,198.14 L585.15,197.78 L585.30,197.51 L585.45,197.35 L585.60,197.29 L585.75,197.33 L585.90,197.46 L586.05,197.69 L586.20,198.02 L586.35,198.42 L586.50,198.91 L586.65,199.47 L586.80,200.09 L586.95,200.77 L587.10,201.49 L587.25,202.25 L587.40,203.04 L587.55,203.85 L587.70,204.67 L587.85,205.49 L588.00,206.30 L588.15,207.09 L588.30,207.85 L588.45,208.58 L588.60,209.27 L588.75,209.90 L588.90,210.49 L589.05,211.01 L589.20,211.46 L589.35,211.85 L589.50,212.16 L589.65,212.40 L589.80,212.57 L589.95,212.66 L590.10,212.68 L590.25,212.62 L590.40,212.50 L590.55,212.31 L590.70,212.06 L590.85,211.76 L591.00,211.40 L591.15,210.99 L591.30,210.54 L591.45,210.06 L591.60,209.55 L591.75,209.02 L591.90,208.48 L592.05,207.93 L592.20,207.38 L592.35,206.83 L592.50,206.30 L598.50,206.30" fill="none" stroke="#e8a0aa" stroke-width="0.5" stroke-linejoin="round"/><polygon points="606.4,206.70000000000002 597.8,200.60000000000002 597.8,212.0" fill="#c41e30"/>
<polygon points="624.2,157.3 632,157.3 632,144.7 645.1,169.9 632,195.1 632,182.5 624.2,182.5" fill="url(#cg)"/>
<path d="M660,98.3 H749.7 V142 L783.1,171.4 L749.7,161 V171.3 H660 Z" fill="#fff" stroke="#1b2a4a" stroke-width="2"/>
<rect x="674.5" y="131.3" width="66.0" height="20.0" fill="#cdf2fa"/>
<rect x="674.5" y="103.8" width="66.0" height="47.500000000000014" fill="none" stroke="#c9c9c9" stroke-width="0.8"/>
<line x1="674.5" y1="131.3" x2="740.5" y2="131.3" stroke="#e07a7a" stroke-width="1"/>
<rect x="681.90" y="114.40" width="9.80" height="36.90" fill="#1f6db5"/>
<line x1="678.90" y1="114.40" x2="694.70" y2="151.30" stroke="#222" stroke-width="0.8"/>
<line x1="694.70" y1="114.40" x2="678.90" y2="151.30" stroke="#222" stroke-width="0.8"/>
<text x="686.80" y="111.40" font-size="6.5" font-weight="bold" text-anchor="middle" fill="#222">Reject</text>
<rect x="696.90" y="140.30" width="9.10" height="11.00" fill="#ee4b4b"/>
<rect x="711.20" y="144.10" width="9.10" height="7.20" fill="#ee4b4b"/>
<rect x="725.50" y="137.20" width="9.50" height="14.10" fill="#ee4b4b"/>
<text x="673.5" y="156.3" font-size="6" text-anchor="end" fill="#444">0</text>
<text x="707.5" y="156.8" font-size="6" text-anchor="middle" fill="#444">Satellite</text>
<text transform="translate(670,135.8) rotate(-90)" font-size="5.7" text-anchor="middle" fill="#444">DD pseudorange residuals</text>
<rect x="676" y="159.3" width="64" height="9.5" fill="#fff" stroke="#bdbdbd" stroke-width="0.8"/>
<rect x="679.5" y="161.3" width="9.5" height="5.5" fill="#ee4b4b"/>
<text x="691" y="166.9" font-size="6.8" font-weight="bold" fill="#e04040">LOS</text>
<text x="708" y="166.9" font-size="6.8" font-weight="bold" fill="#1030b0"></text>
<rect x="708" y="161.3" width="9.5" height="5.5" fill="#1f6db5"/>
<text x="718.5" y="166.9" font-size="6.8" font-weight="bold" fill="#1a2fb0">NLOS</text>
<path d="M660.5,176 H750.2 V187.4 L797.5,183.4 L750.2,207.5 V250.6 H660.5 Z" fill="#fff" stroke="#1b2a4a" stroke-width="2"/>
<rect x="675.0" y="209" width="66.0" height="20" fill="#cdf2fa"/>
<rect x="675.0" y="181.5" width="66.0" height="47.5" fill="none" stroke="#c9c9c9" stroke-width="0.8"/>
<line x1="675.0" y1="209" x2="741.0" y2="209" stroke="#e07a7a" stroke-width="1"/>
<rect x="681.20" y="214.90" width="9.00" height="14.10" fill="#1f6db5"/>
<rect x="695.70" y="202.00" width="9.70" height="27.00" fill="#ee4b4b"/>
<line x1="692.70" y1="202.00" x2="708.40" y2="229.00" stroke="#222" stroke-width="0.8"/>
<line x1="708.40" y1="202.00" x2="692.70" y2="229.00" stroke="#222" stroke-width="0.8"/>
<text x="700.55" y="199.00" font-size="6.5" font-weight="bold" text-anchor="middle" fill="#222">Reject</text>
<rect x="710.30" y="216.30" width="9.20" height="12.70" fill="#ee4b4b"/>
<rect x="724.60" y="208.80" width="9.20" height="20.20" fill="#ee4b4b"/>
<text x="674.0" y="234" font-size="6" text-anchor="end" fill="#444">0</text>
<text x="708.0" y="234.5" font-size="6" text-anchor="middle" fill="#444">Satellite</text>
<text transform="translate(670.5,214.3) rotate(-90)" font-size="5.7" text-anchor="middle" fill="#444">DD pseudorange residuals</text>
<rect x="676.5" y="237" width="64" height="9.5" fill="#fff" stroke="#bdbdbd" stroke-width="0.8"/>
<rect x="680.0" y="239" width="9.5" height="5.5" fill="#ee4b4b"/>
<text x="691.5" y="244.6" font-size="6.8" font-weight="bold" fill="#e04040">LOS</text>
<text x="708.5" y="244.6" font-size="6.8" font-weight="bold" fill="#1030b0"></text>
<rect x="708.5" y="239" width="9.5" height="5.5" fill="#1f6db5"/>
<text x="719.0" y="244.6" font-size="6.8" font-weight="bold" fill="#1a2fb0">NLOS</text>
<circle cx="790" cy="170" r="15" fill="none" stroke="#3b4762" stroke-width="1.8" stroke-dasharray="4 2.5"/>
<circle cx="779.7" cy="159.3" r="4.5" fill="none" stroke="#1b2a4a" stroke-width="1.9"/>
<circle cx="795.2" cy="163.6" r="4.5" fill="none" stroke="#1b2a4a" stroke-width="1.9"/>
<circle cx="786.6" cy="171.4" r="4.5" fill="none" stroke="#1b2a4a" stroke-width="1.9"/>
<circle cx="779.7" cy="176.6" r="4.5" fill="none" stroke="#1b2a4a" stroke-width="1.9"/>
<circle cx="800.3" cy="180.9" r="4.5" fill="none" stroke="#1b2a4a" stroke-width="1.9"/>
<polygon points="824,159 831.9,159 831.9,146.6 844.4,172.5 831.9,198 831.9,185.6 824,185.6" fill="url(#cg)"/>
<path d="M866.6,214.0 L866.60,212.95 L867.58,212.89 L868.55,212.83 L869.52,212.77 L870.50,212.69 L871.48,212.62 L872.45,212.54 L873.43,212.45 L874.40,212.36 L875.38,212.26 L876.35,212.15 L877.33,212.03 L878.30,211.91 L879.27,211.77 L880.25,211.63 L881.23,211.47 L882.20,211.30 L883.18,211.12 L884.15,210.92 L885.12,210.70 L886.10,210.47 L887.08,210.21 L888.05,209.94 L889.02,209.64 L890.00,209.31 L890.98,208.96 L891.95,208.57 L892.93,208.15 L893.90,207.69 L894.88,207.18 L895.85,206.63 L896.83,206.03 L897.80,205.37 L898.77,204.64 L899.75,203.85 L900.73,202.98 L901.70,202.02 L902.68,200.98 L903.65,199.82 L904.62,198.56 L905.60,197.18 L905.6,214.0 Z" fill="#c5dcf3"/>
<path d="M957.9,214.0 L957.90,197.03 L958.86,198.41 L959.82,199.67 L960.79,200.82 L961.75,201.87 L962.71,202.83 L963.67,203.70 L964.64,204.50 L965.60,205.22 L966.56,205.89 L967.52,206.50 L968.49,207.05 L969.45,207.56 L970.41,208.03 L971.38,208.46 L972.34,208.85 L973.30,209.21 L974.26,209.54 L975.23,209.84 L976.19,210.12 L977.15,210.38 L978.11,210.62 L979.07,210.84 L980.04,211.04 L981.00,211.23 L981.96,211.40 L982.92,211.56 L983.89,211.71 L984.85,211.85 L985.81,211.97 L986.77,212.09 L987.74,212.20 L988.70,212.31 L989.66,212.40 L990.62,212.49 L991.59,212.57 L992.55,212.65 L993.51,212.73 L994.48,212.79 L995.44,212.86 L996.40,212.92 L996.4,214.0 Z" fill="#c5dcf3"/>
<line x1="866.6" y1="110" x2="866.6" y2="214.0" stroke="#bdbdbd" stroke-width="1"/>
<line x1="866.6" y1="214.0" x2="996.4" y2="214.0" stroke="#bdbdbd" stroke-width="1"/>
<path d="M866.60,214.00 L867.10,214.00 L867.60,214.00 L868.10,214.00 L868.60,214.00 L869.10,214.00 L869.60,214.00 L870.09,214.00 L870.59,214.00 L871.09,214.00 L871.59,214.00 L872.09,214.00 L872.59,214.00 L873.09,214.00 L873.59,214.00 L874.09,214.00 L874.59,213.99 L875.09,213.99 L875.59,213.99 L876.09,213.99 L876.58,213.99 L877.08,213.99 L877.58,213.98 L878.08,213.98 L878.58,213.98 L879.08,213.98 L879.58,213.97 L880.08,213.97 L880.58,213.96 L881.08,213.95 L881.58,213.95 L882.08,213.94 L882.58,213.93 L883.07,213.92 L883.57,213.90 L884.07,213.89 L884.57,213.87 L885.07,213.85 L885.57,213.83 L886.07,213.81 L886.57,213.78 L887.07,213.75 L887.57,213.71 L888.07,213.67 L888.57,213.63 L889.07,213.57 L889.56,213.52 L890.06,213.45 L890.56,213.38 L891.06,213.30 L891.56,213.21 L892.06,213.10 L892.56,212.99 L893.06,212.87 L893.56,212.73 L894.06,212.57 L894.56,212.40 L895.06,212.22 L895.56,212.01 L896.05,211.78 L896.55,211.54 L897.05,211.26 L897.55,210.96 L898.05,210.64 L898.55,210.28 L899.05,209.90 L899.55,209.48 L900.05,209.02 L900.55,208.53 L901.05,207.99 L901.55,207.42 L902.05,206.80 L902.54,206.13 L903.04,205.41 L903.54,204.65 L904.04,203.83 L904.54,202.95 L905.04,202.02 L905.54,201.03 L906.04,199.98 L906.54,198.86 L907.04,197.68 L907.54,196.43 L908.04,195.12 L908.54,193.74 L909.03,192.29 L909.53,190.78 L910.03,189.19 L910.53,187.54 L911.03,185.82 L911.53,184.03 L912.03,182.17 L912.53,180.25 L913.03,178.27 L913.53,176.23 L914.03,174.13 L914.53,171.98 L915.03,169.78 L915.52,167.53 L916.02,165.24 L916.52,162.91 L917.02,160.56 L917.52,158.18 L918.02,155.78 L918.52,153.37 L919.02,150.95 L919.52,148.53 L920.02,146.13 L920.52,143.74 L921.02,141.37 L921.52,139.04 L922.01,136.75 L922.51,134.51 L923.01,132.33 L923.51,130.21 L924.01,128.16 L924.51,126.20 L925.01,124.32 L925.51,122.55 L926.01,120.87 L926.51,119.31 L927.01,117.87 L927.51,116.55 L928.01,115.36 L928.50,114.31 L929.00,113.39 L929.50,112.62 L930.00,112.00 L930.50,111.52 L931.00,111.20 L931.50,111.03 L932.00,111.01 L932.50,111.15 L933.00,111.44 L933.50,111.89 L934.00,112.48 L934.50,113.22 L934.99,114.11 L935.49,115.14 L935.99,116.30 L936.49,117.59 L936.99,119.01 L937.49,120.55 L937.99,122.20 L938.49,123.96 L938.99,125.81 L939.49,127.76 L939.99,129.79 L940.49,131.89 L940.99,134.06 L941.48,136.29 L941.98,138.58 L942.48,140.90 L942.98,143.26 L943.48,145.64 L943.98,148.05 L944.48,150.46 L944.98,152.88 L945.48,155.29 L945.98,157.70 L946.48,160.08 L946.98,162.44 L947.48,164.77 L947.97,167.07 L948.47,169.33 L948.97,171.54 L949.47,173.70 L949.97,175.81 L950.47,177.86 L950.97,179.86 L951.47,181.79 L951.97,183.66 L952.47,185.46 L952.97,187.20 L953.47,188.86 L953.97,190.46 L954.46,191.99 L954.96,193.46 L955.46,194.85 L955.96,196.18 L956.46,197.43 L956.96,198.63 L957.46,199.76 L957.96,200.82 L958.46,201.82 L958.96,202.77 L959.46,203.66 L959.96,204.49 L960.46,205.26 L960.95,205.99 L961.45,206.67 L961.95,207.29 L962.45,207.88 L962.95,208.42 L963.45,208.92 L963.95,209.39 L964.45,209.81 L964.95,210.21 L965.45,210.57 L965.95,210.90 L966.45,211.20 L966.95,211.48 L967.44,211.74 L967.94,211.97 L968.44,212.18 L968.94,212.37 L969.44,212.54 L969.94,212.70 L970.44,212.84 L970.94,212.97 L971.44,213.08 L971.94,213.19 L972.44,213.28 L972.94,213.36 L973.44,213.44 L973.93,213.50 L974.43,213.56 L974.93,213.62 L975.43,213.66 L975.93,213.70 L976.43,213.74 L976.93,213.77 L977.43,213.80 L977.93,213.83 L978.43,213.85 L978.93,213.87 L979.43,213.89 L979.93,213.90 L980.42,213.92 L980.92,213.93 L981.42,213.94 L981.92,213.95 L982.42,213.95 L982.92,213.96 L983.42,213.97 L983.92,213.97 L984.42,213.97 L984.92,213.98 L985.42,213.98 L985.92,213.98 L986.42,213.99 L986.91,213.99 L987.41,213.99 L987.91,213.99 L988.41,213.99 L988.91,213.99 L989.41,214.00 L989.91,214.00 L990.41,214.00 L990.91,214.00 L991.41,214.00 L991.91,214.00 L992.41,214.00 L992.91,214.00 L993.40,214.00 L993.90,214.00 L994.40,214.00 L994.90,214.00 L995.40,214.00 L995.90,214.00 L996.40,214.00" fill="none" stroke="#222" stroke-width="1.1" stroke-dasharray="3 2"/>
<path d="M866.60,212.95 L867.10,212.92 L867.60,212.89 L868.10,212.86 L868.60,212.83 L869.10,212.80 L869.60,212.76 L870.09,212.72 L870.59,212.69 L871.09,212.65 L871.59,212.61 L872.09,212.57 L872.59,212.53 L873.09,212.48 L873.59,212.44 L874.09,212.39 L874.59,212.34 L875.09,212.29 L875.59,212.23 L876.09,212.18 L876.58,212.12 L877.08,212.06 L877.58,212.00 L878.08,211.94 L878.58,211.87 L879.08,211.80 L879.58,211.73 L880.08,211.65 L880.58,211.57 L881.08,211.49 L881.58,211.41 L882.08,211.32 L882.58,211.23 L883.07,211.14 L883.57,211.04 L884.07,210.93 L884.57,210.83 L885.07,210.71 L885.57,210.60 L886.07,210.48 L886.57,210.35 L887.07,210.22 L887.57,210.08 L888.07,209.93 L888.57,209.78 L889.07,209.63 L889.56,209.46 L890.06,209.29 L890.56,209.11 L891.06,208.93 L891.56,208.73 L892.06,208.53 L892.56,208.31 L893.06,208.09 L893.56,207.85 L894.06,207.61 L894.56,207.35 L895.06,207.08 L895.56,206.80 L896.05,206.51 L896.55,206.20 L897.05,205.88 L897.55,205.54 L898.05,205.19 L898.55,204.82 L899.05,204.43 L899.55,204.02 L900.05,203.59 L900.55,203.14 L901.05,202.67 L901.55,202.18 L902.05,201.66 L902.54,201.12 L903.04,200.55 L903.54,199.96 L904.04,199.33 L904.54,198.67 L905.04,197.99 L905.54,197.27 L906.04,196.51 L906.54,195.72 L907.04,194.89 L907.54,194.02 L908.04,193.11 L908.54,192.15 L909.03,191.16 L909.53,190.11 L910.03,189.02 L910.53,187.88 L911.03,186.69 L911.53,185.45 L912.03,184.15 L912.53,182.80 L913.03,181.39 L913.53,179.93 L914.03,178.40 L914.53,176.83 L915.03,175.19 L915.52,173.49 L916.02,171.74 L916.52,169.94 L917.02,168.07 L917.52,166.16 L918.02,164.20 L918.52,162.18 L919.02,160.13 L919.52,158.03 L920.02,155.91 L920.52,153.75 L921.02,151.58 L921.52,149.39 L922.01,147.19 L922.51,145.00 L923.01,142.83 L923.51,140.67 L924.01,138.56 L924.51,136.49 L925.01,134.47 L925.51,132.54 L926.01,130.68 L926.51,128.92 L927.01,127.27 L927.51,125.75 L928.01,124.35 L928.50,123.11 L929.00,122.01 L929.50,121.08 L930.00,120.32 L930.50,119.75 L931.00,119.35 L931.50,119.14 L932.00,119.12 L932.50,119.29 L933.00,119.65 L933.50,120.19 L934.00,120.92 L934.50,121.81 L934.99,122.87 L935.49,124.09 L935.99,125.45 L936.49,126.96 L936.99,128.58 L937.49,130.32 L937.99,132.15 L938.49,134.08 L938.99,136.07 L939.49,138.13 L939.99,140.24 L940.49,142.39 L940.99,144.56 L941.48,146.75 L941.98,148.94 L942.48,151.14 L942.98,153.31 L943.48,155.47 L943.98,157.61 L944.48,159.71 L944.98,161.77 L945.48,163.79 L945.98,165.77 L946.48,167.69 L946.98,169.56 L947.48,171.38 L947.97,173.15 L948.47,174.85 L948.97,176.50 L949.47,178.09 L949.97,179.62 L950.47,181.10 L950.97,182.52 L951.47,183.88 L951.97,185.19 L952.47,186.44 L952.97,187.64 L953.47,188.79 L953.97,189.90 L954.46,190.95 L954.96,191.96 L955.46,192.92 L955.96,193.84 L956.46,194.72 L956.96,195.55 L957.46,196.35 L957.96,197.12 L958.46,197.84 L958.96,198.54 L959.46,199.20 L959.96,199.83 L960.46,200.43 L960.95,201.01 L961.45,201.56 L961.95,202.08 L962.45,202.58 L962.95,203.05 L963.45,203.50 L963.95,203.93 L964.45,204.35 L964.95,204.74 L965.45,205.11 L965.95,205.47 L966.45,205.81 L966.95,206.14 L967.44,206.45 L967.94,206.75 L968.44,207.03 L968.94,207.30 L969.44,207.56 L969.94,207.81 L970.44,208.04 L970.94,208.27 L971.44,208.48 L971.94,208.69 L972.44,208.89 L972.94,209.08 L973.44,209.26 L973.93,209.43 L974.43,209.59 L974.93,209.75 L975.43,209.90 L975.93,210.05 L976.43,210.19 L976.93,210.32 L977.43,210.45 L977.93,210.57 L978.43,210.69 L978.93,210.80 L979.43,210.91 L979.93,211.02 L980.42,211.12 L980.92,211.21 L981.42,211.30 L981.92,211.39 L982.42,211.48 L982.92,211.56 L983.42,211.64 L983.92,211.71 L984.42,211.79 L984.92,211.86 L985.42,211.92 L985.92,211.99 L986.42,212.05 L986.91,212.11 L987.41,212.17 L987.91,212.22 L988.41,212.28 L988.91,212.33 L989.41,212.38 L989.91,212.43 L990.41,212.47 L990.91,212.52 L991.41,212.56 L991.91,212.60 L992.41,212.64 L992.91,212.68 L993.40,212.72 L993.90,212.75 L994.40,212.79 L994.90,212.82 L995.40,212.85 L995.90,212.89 L996.40,212.92" fill="none" stroke="#1e2ea0" stroke-width="2"/>
<text transform="translate(863,163) rotate(-90)" font-size="6.1" text-anchor="middle" fill="#444">Probability Density</text>
<text x="931.8" y="222" font-size="6" text-anchor="middle" fill="#555">x</text>
<circle cx="1001.4" cy="169.2" r="15.5" fill="none" stroke="#3b4762" stroke-width="1.8" stroke-dasharray="4 2.5"/>
<path d="M1032,102.3 H1100.6 V156.3 H1032 V148 L1010.5,161 L1032,135 Z" fill="#fff" stroke="#1b2a4a" stroke-width="1.8" stroke-linejoin="miter"/>
<line x1="1044" y1="148.2" x2="1044" y2="115" stroke="#8d8d8d" stroke-width="1.6"/>
<polygon points="1044,110 1040.5,116.5 1047.5,116.5" fill="#8d8d8d"/>
<line x1="1044" y1="148.2" x2="1077.2" y2="148.2" stroke="#8d8d8d" stroke-width="1.6"/>
<polygon points="1082.2,148.2 1075.7,144.7 1075.7,151.7" fill="#8d8d8d"/>
<ellipse cx="1072.5" cy="122.3" rx="11.3" ry="11" fill="#dbe3f1" stroke="#1a2a55" stroke-width="2.9" stroke-dasharray="0 5" stroke-linecap="round"/>
<line x1="1044.5" y1="148" x2="1071.30" y2="124.72" stroke="#12266a" stroke-width="3.3"/>
<polygon points="1079.6,117.5 1072.77,134.03 1071.30,124.72 1062.28,121.96" fill="#12266a"/>
<path d="M1032,163.7 H1100.6 V217.7 H1032 V187 L1015,181.5 L1032,177.3 Z" fill="#fff" stroke="#1b2a4a" stroke-width="1.8" stroke-linejoin="miter"/>
<line x1="1044" y1="210.2" x2="1044" y2="177.4" stroke="#8d8d8d" stroke-width="1.6"/>
<polygon points="1044,172.4 1040.5,178.9 1047.5,178.9" fill="#8d8d8d"/>
<line x1="1044" y1="210.2" x2="1077.2" y2="210.2" stroke="#8d8d8d" stroke-width="1.6"/>
<polygon points="1082.2,210.2 1075.7,206.7 1075.7,213.7" fill="#8d8d8d"/>
<ellipse cx="1072.5" cy="182.1" rx="11.3" ry="11" fill="#dbe3f1" stroke="#1a2a55" stroke-width="2.9" stroke-dasharray="0 5" stroke-linecap="round"/>
<line x1="1044.5" y1="210" x2="1071.55" y2="184.80" stroke="#12266a" stroke-width="3.3"/>
<polygon points="1079.6,177.3 1073.35,194.06 1071.55,184.80 1062.44,182.35" fill="#12266a"/>
<circle cx="993.3" cy="159.5" r="4.5" fill="none" stroke="#1b2a4a" stroke-width="1.9"/>
<circle cx="1008.5" cy="163.7" r="4.5" fill="none" stroke="#1b2a4a" stroke-width="1.9"/>
<circle cx="999.8" cy="170.8" r="4.5" fill="none" stroke="#1b2a4a" stroke-width="1.9"/>
<circle cx="991.7" cy="176.6" r="4.5" fill="none" stroke="#1b2a4a" stroke-width="1.9"/>
<circle cx="1013.7" cy="181.5" r="4.5" fill="none" stroke="#1b2a4a" stroke-width="1.9"/>
<text x="107" y="88.7" font-size="18" font-weight="bold" fill="#111">v</text><text x="116.3" y="92.3" font-size="14" font-style="italic" fill="#111">i</text>
<text x="174.5" y="88.7" font-size="19" font-style="italic" font-weight="bold" fill="#111">t</text><circle cx="185.8" cy="75.6" r="1.1" fill="#111"/><text x="180.5" y="93.2" font-size="15" font-style="italic" letter-spacing="1.2" fill="#111">r,t</text>
<text x="75.5" y="128.2" font-size="19" font-weight="bold" fill="#111">x</text><text x="85.5" y="131" font-size="13" font-style="italic" fill="#111">i</text><text x="90.5" y="128.2" font-size="16" fill="#111">:</text>
<text x="68.6" y="148.1" font-size="19" fill="#222">position</text>
<text x="422.5" y="91.5" font-size="18" letter-spacing="0.12" fill="#111">GNSS carrier phase / Doppler</text>
<text x="60" y="57.6" font-size="29.45" font-weight="bold" fill="#1a2d50" style="white-space:pre">Proposed Tightly Coupled  Rao-Blackwellized Particle Filter</text>
<text x="214.5" y="273.9" font-size="22" font-weight="bold" fill="#111">Robust KF/PF Prediction</text>
<text x="728" y="275.1" font-size="22" font-weight="bold" fill="#111">Robust KF/PF Update</text>
</svg>
<div class="t" style="left:28.50px;top:326.30px;font-size:23px;"><span style="width:24px">提</span><span style="width:24px">案</span><span style="width:24px">方</span><span style="width:24px">法</span><span style="width:24px">は</span><span style="width:24px">、</span><span style="width:24px">生</span><span style="width:24px">の</span><span style="width:24px">ド</span><span style="width:24px">ッ</span><span style="width:24px">プ</span><span style="width:24px">ラ</span><span style="width:24px">ー</span><span style="width:24px">観</span><span style="width:24px">測</span><span style="width:24px">値</span><span style="width:24px">を</span></div>
<div class="lt" style="left:445.80px;top:327.8px;font-size:25px;transform:scaleX(1.15);transform-origin:0 0">KF</div>
<div class="t" style="left:490.50px;top:326.30px;font-size:23px;"><span style="width:24px">に</span><span style="width:24px">直</span><span style="width:24px">接</span><span style="width:24px">取</span><span style="width:24px">り</span><span style="width:24px">込</span><span style="width:24px">み</span><span style="width:24px">、</span></div>
<div class="lt" style="left:679.50px;top:327.8px;font-size:25px;transform:scaleX(1.165);transform-origin:0 0">NLOS</div>
<div class="t" style="left:759.00px;top:326.30px;font-size:23px;"><span style="width:24px">棄</span><span style="width:24px">却</span><span style="width:24px">と</span></div>
<div class="lt" style="left:835.00px;top:327.8px;font-size:25px;transform:scaleX(1.205);transform-origin:0 0">Student's</div>
<div class="lt" style="left:952.50px;top:327.8px;font-size:25px;transform:scaleX(1.5);transform-origin:0 0">t</div>
<div class="t" style="left:967.50px;top:326.30px;font-size:23px;"><span style="width:24px">分</span><span style="width:24px">布</span><span style="width:24px">に</span><span style="width:24px">基</span><span style="width:24px">づ</span><span style="width:24px">く</span><span style="width:24px">ロ</span></div>
<div class="t" style="left:28.50px;top:357.90px;font-size:23px;"><span style="width:24.65px">バ</span><span style="width:24.65px">ス</span><span style="width:24.65px">ト</span><span style="width:24.65px">推</span><span style="width:24.65px">定</span><span style="width:24.65px">手</span><span style="width:24.65px">法</span><span style="width:24.65px">を</span><span style="width:24.65px">導</span><span style="width:24.65px">入</span><span style="width:24.65px">す</span><span style="width:24.65px">る</span><span style="width:24.65px">こ</span><span style="width:24.65px">と</span><span style="width:24.65px">で</span><span style="width:24.65px">、</span><span style="width:24.65px">観</span><span style="width:24.65px">測</span><span style="width:24.65px">可</span><span style="width:24.65px">能</span><span style="width:24.65px">な</span><span style="width:24.65px">衛</span><span style="width:24.65px">星</span><span style="width:24.65px">数</span><span style="width:24.65px">が</span><span style="width:24.65px">少</span><span style="width:24.65px">な</span><span style="width:24.65px">く</span><span style="width:24.65px">、</span><span style="width:24.65px">観</span><span style="width:24.65px">測</span><span style="width:24.65px">に</span><span style="width:24.65px">外</span><span style="width:24.65px">れ</span><span style="width:24.65px">値</span><span style="width:24.65px">が</span><span style="width:24.65px">含</span><span style="width:24.65px">ま</span><span style="width:24.65px">れ</span><span style="width:24.65px">る</span><span style="width:24.65px">よ</span><span style="width:24.65px">う</span><span style="width:24.65px">な</span><span style="width:24.65px">都</span><span style="width:24.65px">市</span></div>
<div class="t" style="left:28.50px;top:389.30px;font-size:23px;"><span style="width:24px">環</span><span style="width:24px">境</span><span style="width:24px">に</span><span style="width:24px">対</span><span style="width:24px">す</span><span style="width:24px">る</span><span style="width:24px">堅</span><span style="width:24px">牢</span><span style="width:24px">性</span><span style="width:24px">を</span><span style="width:24px">強</span><span style="width:24px">化</span><span style="width:24px">し</span><span style="width:24px">た</span><span style="width:24px">。</span></div>
<div class="t" style="left:465.50px;top:293.60px;font-size:23.5px;-webkit-text-stroke:0.45px #111;"><span style="width:24px">図</span></div>
<div class="lt" style="left:497.30px;top:293.1px;font-size:27px;transform:scaleX(0.85);transform-origin:0 0"><b>1</b></div>
<div class="t" style="left:517.80px;top:293.60px;font-size:23.5px;-webkit-text-stroke:0.45px #111;"><span style="width:24.1px">提</span><span style="width:24.1px">案</span><span style="width:24.1px">手</span><span style="width:24.1px">法</span><span style="width:24.1px">の</span><span style="width:24.1px">概</span><span style="width:24.1px">要</span></div>
</body></html>
